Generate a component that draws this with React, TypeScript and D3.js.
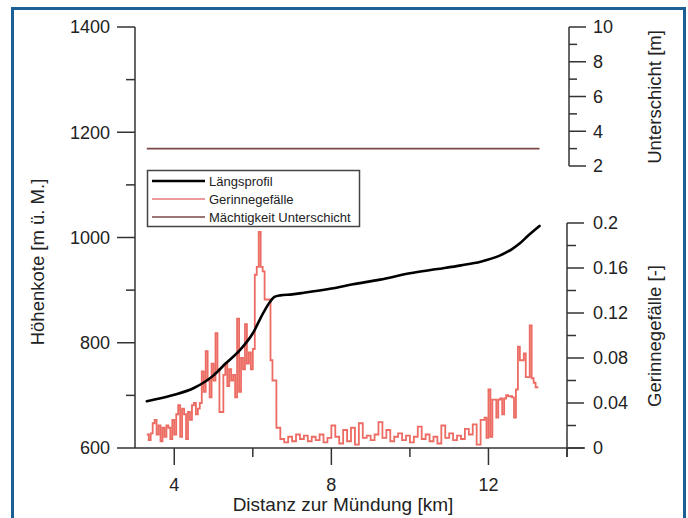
import React from "react";
import * as d3 from "d3";

// ---------- data ----------
const profilKm = [3.3, 3.5, 4.0, 4.5, 5.0, 5.3, 5.67, 6.0, 6.26, 6.44, 6.55, 6.7, 7.0, 7.3, 8.0, 8.55, 9.24, 10.0, 10.7, 11.3, 11.8, 12.3, 12.6, 12.8, 13.0, 13.3];
const profilHoehe = [689, 692, 701, 714, 738, 760, 786, 818, 856, 878, 887, 890, 892, 895, 903, 911, 920, 932, 940, 947, 954, 966, 978, 989, 1003, 1022];

const gefKm = [
  3.3, 3.35, 3.4, 3.45, 3.5, 3.55, 3.6, 3.65, 3.7, 3.75, 3.8, 3.85, 3.9, 3.95,
  4.0, 4.05, 4.1, 4.15, 4.2, 4.25, 4.3, 4.35, 4.4, 4.45, 4.5, 4.55, 4.6, 4.65, 4.7, 4.75, 4.8, 4.85, 4.9, 4.95,
  5.0, 5.05, 5.1, 5.15, 5.2, 5.25, 5.3, 5.35, 5.4, 5.45, 5.5, 5.55, 5.6, 5.65, 5.7, 5.75, 5.8, 5.85, 5.9, 5.95,
  6.0, 6.05, 6.1, 6.15, 6.2, 6.25, 6.3, 6.35, 6.4, 6.45, 6.5, 6.55,
  6.6, 6.7, 6.8, 6.9, 7.0, 7.1, 7.2, 7.3, 7.4, 7.5, 7.6, 7.7, 7.8, 7.9,
  8.0, 8.1, 8.2, 8.3, 8.4, 8.5, 8.6, 8.7, 8.8, 8.9, 9.0, 9.1, 9.2, 9.3, 9.4, 9.5, 9.6, 9.7, 9.8, 9.9,
  10.0, 10.1, 10.2, 10.3, 10.4, 10.5, 10.6, 10.7, 10.8, 10.9, 11.0, 11.1, 11.2, 11.3, 11.4, 11.5, 11.6, 11.7, 11.8, 11.9, 11.95,
  12.0, 12.05, 12.1, 12.15, 12.2, 12.25, 12.3, 12.35, 12.4, 12.45, 12.5, 12.55, 12.6, 12.65, 12.7, 12.75, 12.8, 12.85, 12.9, 12.95,
  13.0, 13.05, 13.1, 13.15, 13.2, 13.27,
];
const gefWert = [
  0.012, 0.007, 0.013, 0.022, 0.025, 0.012, 0.02, 0.006, 0.018, 0.01, 0.02, 0.018, 0.008, 0.025,
  0.012, 0.03, 0.038, 0.01, 0.035, 0.03, 0.008, 0.032, 0.025, 0.038, 0.04, 0.03, 0.035, 0.04, 0.068, 0.05, 0.086, 0.06, 0.045, 0.075,
  0.06, 0.102, 0.07, 0.032, 0.032, 0.065, 0.075, 0.055, 0.07, 0.06, 0.065, 0.045, 0.115, 0.05, 0.08, 0.07, 0.11, 0.075, 0.085, 0.07,
  0.088, 0.154, 0.161, 0.192, 0.161, 0.157, 0.132, 0.132, 0.132, 0.078, 0.06, 0.06,
  0.018, 0.008, 0.005, 0.01, 0.006, 0.012, 0.008, 0.011, 0.006, 0.01, 0.007, 0.012, 0.005, 0.009,
  0.02, 0.01, 0.004, 0.016, 0.006, 0.018, 0.003, 0.022, 0.009, 0.011, 0.007, 0.012, 0.023, 0.009, 0.016, 0.006, 0.01, 0.013, 0.007, 0.011,
  0.005, 0.01, 0.019, 0.008, 0.012, 0.006, 0.01, 0.004, 0.02, 0.009, 0.013, 0.007, 0.011, 0.008, 0.017, 0.012, 0.021, 0.003, 0.025, 0.027, 0.009,
  0.052, 0.01, 0.043, 0.043, 0.027, 0.043, 0.044, 0.03, 0.044, 0.047, 0.046, 0.046, 0.045, 0.027, 0.052, 0.09, 0.078, 0.078, 0.084, 0.063,
  0.063, 0.109, 0.062, 0.058, 0.054, 0.054,
];

const unterKm = [3.3, 13.3];
const unterWert = [3, 3];

const xTicks = [4, 6, 8, 10, 12, 14];
const xLabels = [4, 8, 12];
const yLeftTicks = [600, 700, 800, 900, 1000, 1100, 1200, 1300, 1400];
const yLeftLabels = [600, 800, 1000, 1200, 1400];
const yUTicks = [2, 3, 4, 5, 6, 7, 8, 9, 10];
const yULabels = [2, 4, 6, 8, 10];
const yGTicks = [0, 0.02, 0.04, 0.06, 0.08, 0.1, 0.12, 0.14, 0.16, 0.18, 0.2];
const yGLabels = [0, 0.04, 0.08, 0.12, 0.16, 0.2];

const legendItems = ["Längsprofil", "Gerinnegefälle", "Mächtigkeit Unterschicht"];

// ---------- layout ----------
const W = 688;
const H = 518;
const FONT = "'Liberation Sans', Arial, sans-serif";
const AX = "#333";
const RED = "#ec6b63";
const BROWN = "#7a4848";

export default function App() {
  const x = d3.scaleLinear().domain([3, 14]).range([135, 567]);
  const yL = d3.scaleLinear().domain([600, 1400]).range([448, 27]);
  const yG = d3.scaleLinear().domain([0, 0.2]).range([448, 223]);
  const yU = d3.scaleLinear().domain([2, 10]).range([166, 27]);
  const xU = 569;

  const profil = profilKm.map((k, i) => [k, profilHoehe[i]] as [number, number]);
  const gef = gefKm.map((k, i) => [k, gefWert[i]] as [number, number]);
  const unter = unterKm.map((k, i) => [k, unterWert[i]] as [number, number]);

  const profilLine = d3
    .line<[number, number]>()
    .x((d) => x(d[0]))
    .y((d) => yL(d[1]))
    .curve(d3.curveMonotoneX);
  const gefLine = d3
    .line<[number, number]>()
    .x((d) => x(d[0]))
    .y((d) => yG(d[1]))
    .curve(d3.curveStepAfter);
  const unterLine = d3
    .line<[number, number]>()
    .x((d) => x(d[0]))
    .y((d) => yU(d[1]));

  const fmtG = (v: number) => (v === 0 ? "0" : String(+v.toFixed(2)));

  return (
    <div style={{ position: "absolute", left: 0, top: 0 }}>
      <svg width={W} height={H} style={{ display: "block", background: "#fff" }} fontFamily={FONT}>
        {/* frame */}
        <rect x={12.5} y={8.5} width={672} height={530} fill="none" stroke="#1c5f95" strokeWidth={3} />

        {/* data */}
        <path d={gefLine(gef) || ""} fill="none" stroke={RED} strokeWidth={1.8} strokeLinejoin="miter" />
        <path d={unterLine(unter) || ""} fill="none" stroke={BROWN} strokeWidth={1.6} />
        <path d={profilLine(profil) || ""} fill="none" stroke="#000" strokeWidth={2.6} strokeLinecap="round" />

        {/* left axis */}
        <line x1={135} x2={135} y1={yL(1400)} y2={yL(600)} stroke={AX} strokeWidth={1.5} />
        {yLeftTicks.map((t) => {
          const major = yLeftLabels.includes(t);
          return (
            <line key={"lt" + t} x1={135} x2={135 - (major ? 18 : 9)} y1={yL(t)} y2={yL(t)} stroke={AX} strokeWidth={1.5} />
          );
        })}
        {yLeftLabels.map((t) => (
          <text key={"ll" + t} x={110} y={yL(t)} dy="0.35em" textAnchor="end" fontSize={18} fill="#222">
            {t}
          </text>
        ))}
        <text transform={`translate(44,${262}) rotate(-90)`} textAnchor="middle" fontSize={18.5} fill="#222">
          Höhenkote [m ü. M.]
        </text>

        {/* bottom axis */}
        <line x1={135} x2={585} y1={448} y2={448} stroke={AX} strokeWidth={1.5} />
        {xTicks.map((t) => {
          const major = xLabels.includes(t);
          return (
            <line key={"xt" + t} x1={x(t)} x2={x(t)} y1={448} y2={448 + (major ? 17 : 9)} stroke={AX} strokeWidth={1.5} />
          );
        })}
        {xLabels.map((t) => (
          <text key={"xl" + t} x={x(t)} y={491} textAnchor="middle" fontSize={18} fill="#222">
            {t}
          </text>
        ))}
        <text x={343} y={511} textAnchor="middle" fontSize={19} fill="#222">
          Distanz zur Mündung [km]
        </text>

        {/* right lower axis */}
        <line x1={567} x2={567} y1={yG(0.2)} y2={457} stroke={AX} strokeWidth={1.5} />
        {yGTicks.map((t, i) => {
          const major = i % 2 === 0;
          return (
            <line key={"gt" + i} x1={567} x2={567 + (major ? 17 : 9)} y1={yG(t)} y2={yG(t)} stroke={AX} strokeWidth={1.5} />
          );
        })}
        {yGLabels.map((t, i) => (
          <text key={"gl" + i} x={593} y={yG(t)} dy="0.35em" textAnchor="start" fontSize={18} fill="#222">
            {fmtG(t)}
          </text>
        ))}
        <text transform={`translate(661,${336}) rotate(-90)`} textAnchor="middle" fontSize={18.5} fill="#222">
          Gerinnegefälle [-]
        </text>

        {/* right upper axis */}
        <line x1={xU} x2={xU} y1={yU(10)} y2={yU(2)} stroke={AX} strokeWidth={1.5} />
        {yUTicks.map((t) => {
          const major = yULabels.includes(t);
          return (
            <line key={"ut" + t} x1={xU} x2={xU + (major ? 17 : 8)} y1={yU(t)} y2={yU(t)} stroke={AX} strokeWidth={1.5} />
          );
        })}
        {yULabels.map((t) => (
          <text key={"ul" + t} x={593} y={yU(t)} dy="0.35em" textAnchor="start" fontSize={18} fill="#222">
            {t}
          </text>
        ))}
        <text transform={`translate(661,${97}) rotate(-90)`} textAnchor="middle" fontSize={18.5} fill="#222">
          Unterschicht [m]
        </text>

        {/* legend */}
        <rect x={147.5} y={170.5} width={212} height={56} fill="#fff" stroke="#444" strokeWidth={1.5} />
        {legendItems.map((name, i) => {
          const yy = 181 + i * 18;
          const stroke = i === 0 ? "#000" : i === 1 ? "#e87878" : BROWN;
          const sw = i === 0 ? 2.4 : 1.4;
          return (
            <g key={name}>
              <line x1={152} x2={205} y1={yy} y2={yy} stroke={stroke} strokeWidth={sw} />
              <text x={209} y={yy} dy="0.35em" fontSize={13} fill="#222">
                {name}
              </text>
            </g>
          );
        })}
      </svg>
    </div>
  );
}
